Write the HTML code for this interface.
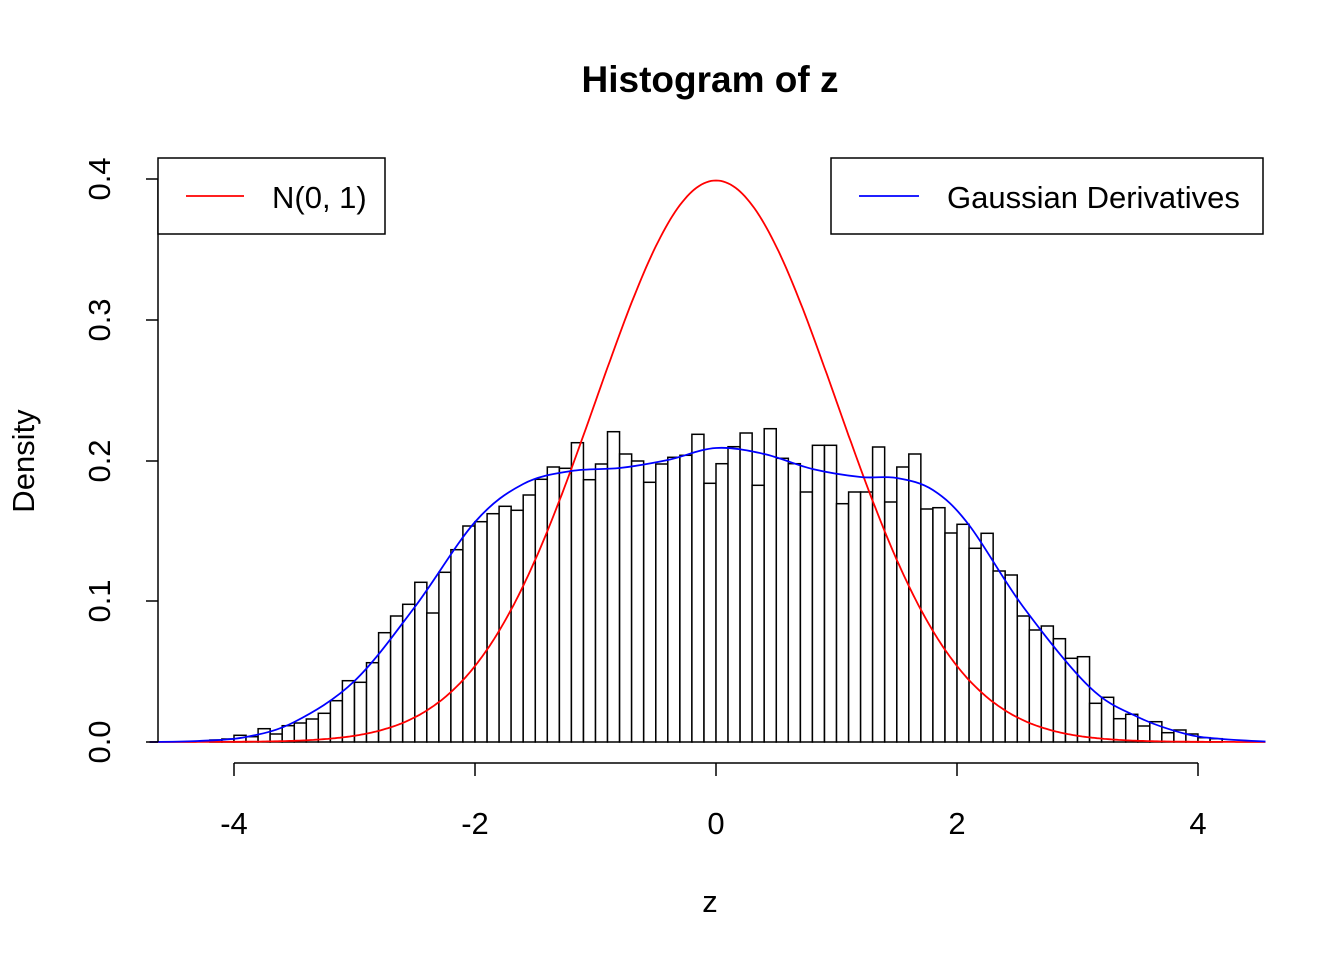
<!DOCTYPE html>
<html><head><meta charset="utf-8"><style>body{margin:0;background:#fff}svg{display:block}text{font-family:"Liberation Sans",Arial,sans-serif}</style></head>
<body><svg id="s" width="1344" height="960" xmlns="http://www.w3.org/2000/svg">
<text x="710" y="92" font-size="37" font-weight="bold" text-anchor="middle">Histogram of z</text>
<text x="710" y="912" font-size="31" text-anchor="middle">z</text>
<text transform="translate(34,461) rotate(-90)" font-size="31" text-anchor="middle">Density</text>
<g id="bars" fill="#fff" stroke="#000" stroke-width="1.5"></g>
<path id="red" fill="none" stroke="#f00" stroke-width="1.8"/>
<path id="blue" fill="none" stroke="#00f" stroke-width="1.8"/>
<g stroke="#000" stroke-width="1.5" fill="none">
<line x1="234" y1="763" x2="1198" y2="763"/>
<line x1="234" y1="763" x2="234" y2="776"/><line x1="475" y1="763" x2="475" y2="776"/><line x1="716" y1="763" x2="716" y2="776"/><line x1="957" y1="763" x2="957" y2="776"/><line x1="1198" y1="763" x2="1198" y2="776"/>
<line x1="158" y1="179" x2="158" y2="742"/>
<line x1="146" y1="179" x2="158" y2="179"/><line x1="146" y1="320" x2="158" y2="320"/><line x1="146" y1="461" x2="158" y2="461"/><line x1="146" y1="601" x2="158" y2="601"/><line x1="146" y1="742" x2="158" y2="742"/>
<rect x="158" y="158" width="227" height="76" fill="#fff"/>
<rect x="831" y="158" width="432" height="76" fill="#fff"/>
</g>
<line x1="186" y1="196" x2="244" y2="196" stroke="#f00" stroke-width="1.8"/>
<text x="272" y="208" font-size="31">N(0, 1)</text>
<line x1="859" y1="196" x2="919" y2="196" stroke="#00f" stroke-width="1.8"/>
<text x="947" y="208" font-size="31">Gaussian Derivatives</text>
<g font-size="31" text-anchor="middle">
<text x="234" y="834">-4</text><text x="475" y="834">-2</text><text x="716" y="834">0</text><text x="957" y="834">2</text><text x="1198" y="834">4</text>
<text transform="translate(110,742) rotate(-90)">0.0</text>
<text transform="translate(110,601) rotate(-90)">0.1</text>
<text transform="translate(110,461) rotate(-90)">0.2</text>
<text transform="translate(110,320) rotate(-90)">0.3</text>
<text transform="translate(110,179) rotate(-90)">0.4</text>
</g>
</svg>
<script>
var X=function(v){return 716+v*120.5},Y=function(d){return 742-d*1407.5};
var tops=[740,739,735.3,736.7,728.7,734,725.7,723,719,713.3,700.7,680.7,682.3,662.7,632.7,616,604.3,582.3,613,572.3,549.7,526,521.7,513.7,506.3,510.3,495,479.3,467,468.3,442.7,479.7,464,431.7,454,461,482.3,464,457.3,455.3,434.3,483.3,463.7,446.7,433,485.3,428.7,458.3,463.7,492,445.3,445.3,503.7,492,492,447,502,467,454,509,507.7,533,524.3,548.3,533.3,571,575,616,630,626,638.7,658.3,656.7,703.3,697.3,718.7,714.3,726,721.7,732.7,730,734,737.7,738.7];
var g=document.getElementById('bars'),h='';
for(var i=0;i<tops.length;i++){var v=-4.2+i*0.1,x=X(v);h+='<rect x="'+x.toFixed(1)+'" y="'+tops[i]+'" width="12.05" height="'+(742-tops[i]).toFixed(1)+'"/>';}
g.innerHTML=h;
var p='';for(var v=-4.7;v<=4.56;v+=0.02){var d=Math.exp(-v*v/2)/Math.sqrt(2*Math.PI);p+=(p?'L':'M')+X(v).toFixed(1)+','+Y(d).toFixed(1);}
document.getElementById('red').setAttribute('d',p);
var pts=[[-4.7,742],[-4.3,741],[-3.9,737],[-3.5,722],[-3,681],[-2.5,607],[-2.0,522],[-1.6,484],[-1.2,471],[-0.8,468],[-0.4,460],[0,448],[0.4,454],[0.8,469],[1.2,477],[1.5,478],[1.8,490],[2.1,525],[2.55,607],[3.1,687],[3.5,717],[3.9,734],[4.2,739],[4.56,741.5]];
var q='M'+X(pts[0][0])+','+pts[0][1];
for(var i=0;i<pts.length-1;i++){var p0=pts[Math.max(0,i-1)],p1=pts[i],p2=pts[i+1],p3=pts[Math.min(pts.length-1,i+2)];
var x0=X(p0[0]),x1=X(p1[0]),x2=X(p2[0]),x3=X(p3[0]);
q+='C'+(x1+(x2-x0)/6).toFixed(1)+','+(p1[1]+(p2[1]-p0[1])/6).toFixed(1)+' '+(x2-(x3-x1)/6).toFixed(1)+','+(p2[1]-(p3[1]-p1[1])/6).toFixed(1)+' '+x2.toFixed(1)+','+p2[1];}
document.getElementById('blue').setAttribute('d',q);
</script>
</body></html>
